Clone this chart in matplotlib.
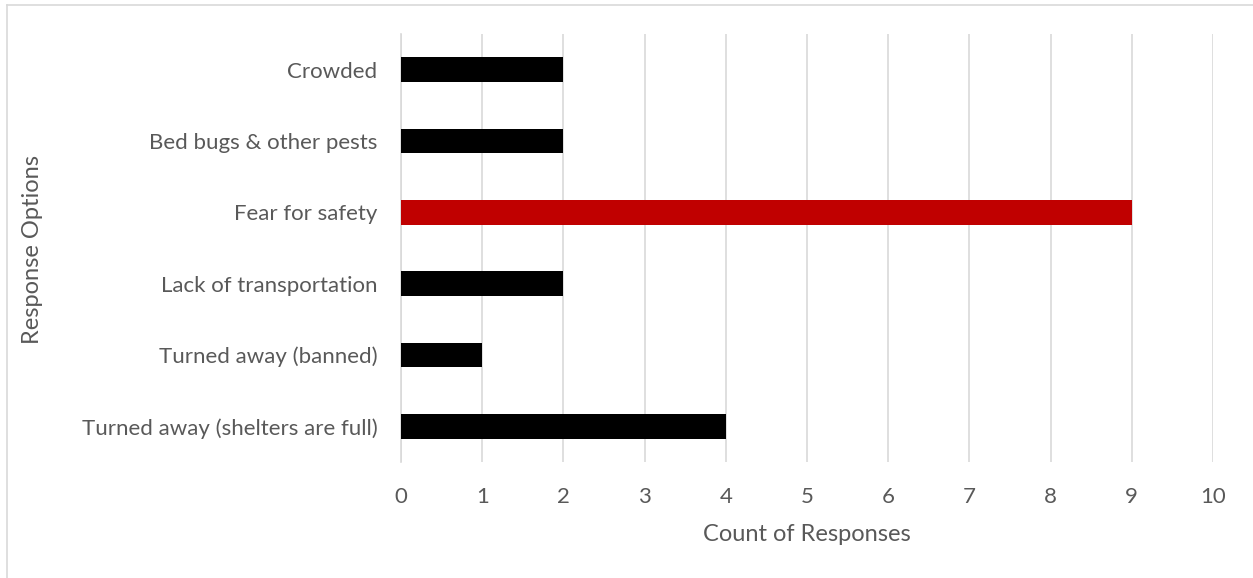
import matplotlib
matplotlib.use("Agg")
import matplotlib.pyplot as plt
from matplotlib.lines import Line2D

categories = ["Turned away (shelters are full)", "Turned away (banned)",
              "Lack of transportation", "Fear for safety",
              "Bed bugs & other pests", "Crowded"]
counts = [4, 1, 2, 9, 2, 2]
colors = ["#000000", "#000000", "#000000", "#C00000", "#000000", "#000000"]
xticks = list(range(0, 11))

plt.rcParams['font.family'] = ['Lato', 'DejaVu Sans']
text_color = "#595959"

fig = plt.figure(figsize=(12.53, 5.78), dpi=100)
ax = fig.add_axes([401/1253, 1-462/578, (1213-401)/1253, (462-34)/578])

y = list(range(len(categories)))
ax.barh(y, counts, height=0.35, color=colors, zorder=3)
ax.set_xlim(0, 10)
ax.set_ylim(-0.5, len(categories)-0.5)
ax.set_xticks(xticks)
ax.set_yticks(y)
ax.set_yticklabels(categories)
ax.grid(axis='x', color='#d9d9d9', linewidth=1.2, zorder=0)
for s in ['top', 'right', 'bottom']:
    ax.spines[s].set_visible(False)
ax.spines['left'].set_color('#d9d9d9')
ax.spines['left'].set_linewidth(1.2)
ax.tick_params(axis='both', length=0, labelsize=16, labelcolor=text_color)
ax.tick_params(axis='y', pad=17)
ax.tick_params(axis='x', pad=18)
ax.set_xlabel("Count of Responses", fontsize=17, color=text_color, labelpad=12)
fig.text(33/1253, 1-250/578, "Response Options", rotation=90, fontsize=17,
         color=text_color, ha='center', va='center')

# chart area border (top and left visible)
fig.add_artist(Line2D([7/1253, 1.0], [1-5/578, 1-5/578], color='#d9d9d9', linewidth=1.2, transform=fig.transFigure))
fig.add_artist(Line2D([7/1253, 7/1253], [0, 1-5/578], color='#d9d9d9', linewidth=1.2, transform=fig.transFigure))

fig.savefig("out.png", dpi=100)
